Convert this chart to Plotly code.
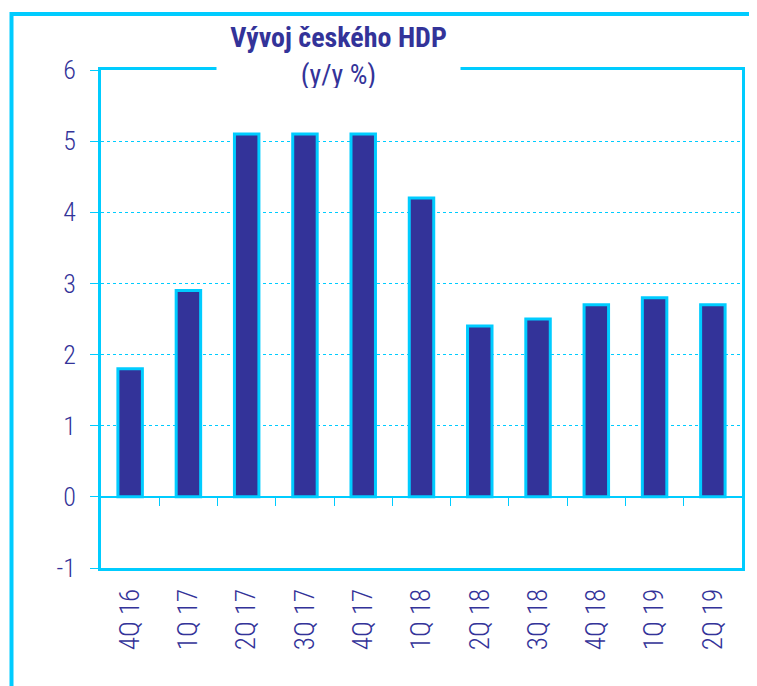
import plotly.graph_objects as go

categories = ["4Q 16", "1Q 17", "2Q 17", "3Q 17", "4Q 17", "1Q 18",
              "2Q 18", "3Q 18", "4Q 18", "1Q 19", "2Q 19"]
gdp_yy = [1.8, 2.9, 5.1, 5.1, 5.1, 4.2, 2.4, 2.5, 2.7, 2.8, 2.7]
y_ticks = [-1, 0, 1, 2, 3, 4, 5, 6]
y_tick_labels = ["-1", "0", "1", "2", "3", "4", "5", "6"]
title_text = "<b>Vývoj českého HDP</b><br>(y/y %)"

NAVY = "#333399"
CYAN = "#00CCFF"
FONT = "Roboto Condensed, Liberation Sans Narrow, Arial Narrow, sans-serif"
W, H = 757, 686
OFF = 8  # page body margin
# target plot box in screen px: left 101, right 742, top 70, bottom 568
L, T = 101 - OFF, 70 - OFF
R = W - (742 - OFF)
B = H - (568 - OFF)
pw, ph = W - L - R, H - T - B


def px_x(x):
    return (x - OFF - L) / pw


def px_y(y):
    return (H - B - (y - OFF)) / ph


idx = list(range(len(categories)))

fig = go.Figure()
fig.add_trace(go.Bar(
    x=idx, y=gdp_yy, width=0.42,
    marker=dict(color=NAVY, line=dict(color=CYAN, width=3)),
    hoverinfo="skip", showlegend=False,
))
# invisible trace to carry the zero-line tick axis
fig.add_trace(go.Scatter(x=[idx[0], idx[-1]], y=[0, 0], xaxis="x2", mode="none",
                         showlegend=False, hoverinfo="skip"))

fig.update_layout(
    width=W, height=H,
    margin=dict(l=L, r=R, t=T, b=B, pad=0),
    paper_bgcolor="white", plot_bgcolor="white",
    font=dict(family=FONT, color=NAVY, size=20),
    xaxis=dict(
        range=[-0.5, len(categories) - 0.5],
        tickmode="array", tickvals=idx, ticktext=categories,
        tickangle=-90, ticks="", showgrid=False, zeroline=False,
        showline=True, linecolor=CYAN, linewidth=3, mirror=True,
        tickfont=dict(size=27, color=NAVY, family=FONT, weight=300), ticklabelstandoff=7,
    ),
    xaxis2=dict(
        overlaying="x", anchor="free", position=1 / 7,
        range=[-0.5, len(categories) - 0.5],
        tickmode="array", tickvals=[i + 0.5 for i in idx[:-1]],
        ticks="outside", ticklen=8, tickwidth=1, tickcolor=CYAN,
        showticklabels=False, showgrid=False, zeroline=False,
        showline=True, linecolor=CYAN, linewidth=1.5,
    ),
    yaxis=dict(
        range=[-1, 6], tickmode="array", tickvals=y_ticks, ticktext=y_tick_labels,
        ticks="outside", ticklen=8, tickwidth=1, tickcolor=CYAN,
        showgrid=True, gridcolor=CYAN, griddash="dot", gridwidth=1,
        zeroline=False,
        showline=True, linecolor=CYAN, linewidth=3, mirror=True,
        tickfont=dict(size=26, color=NAVY, family=FONT, weight=300), ticklabelstandoff=9,
    ),
    shapes=[dict(
        type="rect", xref="paper", yref="paper",
        x0=px_x(11.5), y0=px_y(H + 60), x1=px_x(W + 60), y1=px_y(14),
        line=dict(color=CYAN, width=4), fillcolor="rgba(0,0,0,0)", layer="above",
    )],
    annotations=[dict(
        text=title_text, xref="paper", yref="paper",
        x=px_x(338), y=px_y(56), xanchor="center", yanchor="middle",
        showarrow=False, bgcolor="white", width=241, height=64,
        font=dict(size=28, color=NAVY, family=FONT),
        align="center",
    )],
)

fig.write_html("out.html")
